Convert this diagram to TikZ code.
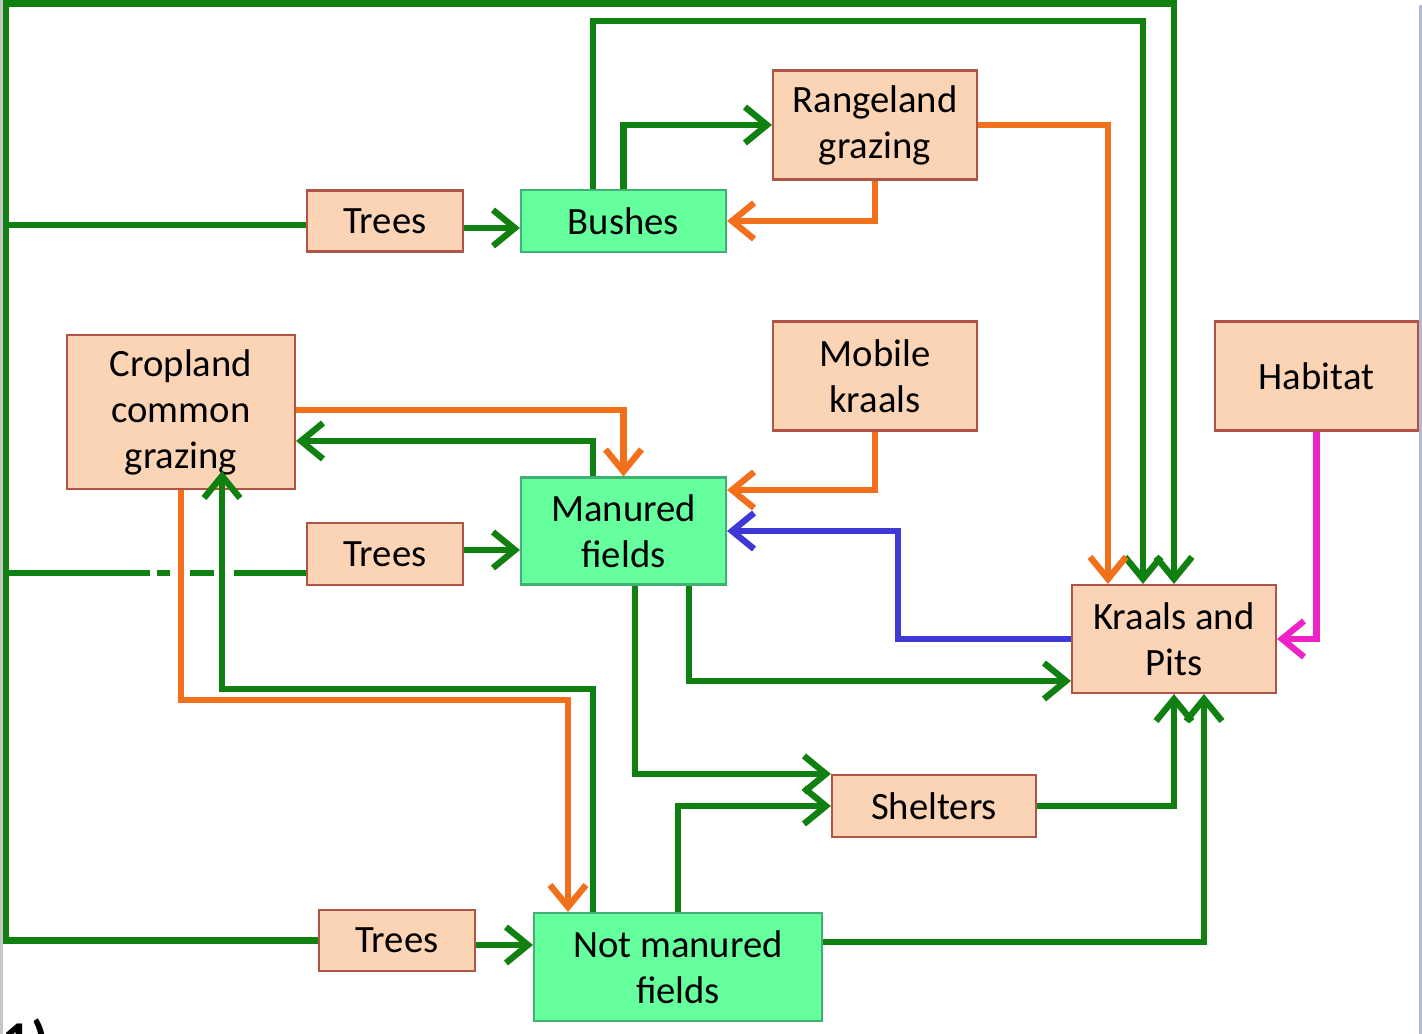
\documentclass[tikz,border=0pt]{standalone}
\usepackage{fontspec}
\setmainfont{Carlito}
\usepackage{tikz}
\usetikzlibrary{arrows.meta}
\definecolor{peach}{RGB}{251,212,182}
\definecolor{peachline}{RGB}{176,84,72}
\definecolor{mint}{RGB}{102,255,158}
\definecolor{mintline}{RGB}{66,176,116}
\definecolor{leaf}{RGB}{16,128,16}
\definecolor{carrot}{RGB}{242,112,28}
\definecolor{indigo}{RGB}{62,56,214}
\definecolor{pinkline}{RGB}{238,34,198}
\definecolor{edgegrey}{RGB}{176,188,214}

\begin{document}
\begin{tikzpicture}[x=1cm, y=1cm,
	box/.style={draw=peachline, fill=peach, line width=0.6pt, inner sep=0pt, align=center,
		font=\fontsize{11}{13.1}\selectfont},
	fieldbox/.style={box, draw=mintline, fill=mint},
	wire/.style={line width=1.8pt},
	flow/.style={wire, -{Straight Barb[length=2.2mm,width=3.6mm]}}]
				\useasboundingbox (0,0) rectangle (14.22,10.34);
				\draw[gray!45, line width=0.03cm] (0.015,0)-- (0.015,10.34);
				\draw[edgegrey, line width=0.03cm] (14.205,0)-- (14.205,10.29);
				% boxes
				\node[box, minimum width=1.56cm, minimum height=0.61cm] (trees1) at (3.85,8.13) {Trees};
				\node[fieldbox, minimum width=2.05cm, minimum height=0.62cm] (bushes) at (6.235,8.13) {Bushes};
				\node[box, minimum width=2.04cm, minimum height=1.09cm] (rangeland) at (8.75,9.09) {Rangeland\\grazing};
				\node[box, minimum width=2.28cm, minimum height=1.54cm] (cropland) at (1.81,6.22) {Cropland\\common\\grazing};
				\node[box, minimum width=2.04cm, minimum height=1.09cm] (mobile) at (8.75,6.58) {Mobile\\kraals};
				\node[box, minimum width=2.03cm, minimum height=1.09cm] (habitat) at (13.165,6.58) {Habitat};
				\node[fieldbox, minimum width=2.05cm, minimum height=1.07cm] (manured) at (6.235,5.03) {Manured\\fields};
				\node[box, minimum width=1.56cm, minimum height=0.62cm] (trees2) at (3.85,4.80) {Trees};
				\node[box, minimum width=2.04cm, minimum height=1.08cm] (kraals) at (11.74,3.95) {Kraals and\\Pits};
				\node[box, minimum width=2.04cm, minimum height=0.62cm] (shelters) at (9.34,2.28) {Shelters};
				\node[box, minimum width=1.56cm, minimum height=0.61cm] (trees3) at (3.97,0.935) {Trees};
				\node[fieldbox, minimum width=2.88cm, minimum height=1.08cm] (notman) at (6.78,0.67) {Not manured\\fields};
				\node[anchor=north west, inner sep=0pt, font=\fontsize{16}{16}\bfseries] (tag) at (0.02,0.16) {1)};
				% end points
				\coordinate (tl) at (0.06,10.305);
				\coordinate (topin) at (0,10.13);
				\coordinate (bend) at (8.98,0);
				\coordinate (orangelow) at (0,3.34);
				\coordinate (greenlow) at (0,3.45);
				\coordinate (t1w) at ([yshift=-0.04cm]trees1.west);
				\coordinate (t1e) at ([yshift=-0.07cm]trees1.east);
				\coordinate (t2w) at ([yshift=-0.19cm]trees2.west);
				\coordinate (t2e) at ([yshift=0.04cm]trees2.east);
				\coordinate (t3e) at ([yshift=-0.045cm]trees3.east);
				\coordinate (b1) at ([xshift=-0.305cm]bushes.north);
				\coordinate (k1) at ([xshift=-0.66cm]kraals.north);
				\coordinate (k2) at ([xshift=-0.31cm]kraals.north);
				\coordinate (k3) at ([yshift=-0.42cm]kraals.west);
				\coordinate (k4) at ([xshift=0.30cm]kraals.south);
				\coordinate (c1) at ([yshift=-0.29cm]cropland.east);
				\coordinate (c2) at ([xshift=0.41cm,yshift=0.19cm]cropland.south);
				\coordinate (c3) at ([yshift=0.02cm]cropland.east);
				\coordinate (m1) at ([xshift=-0.305cm]manured.north);
				\coordinate (m2) at ([yshift=0.41cm]manured.east);
				\coordinate (m3) at ([xshift=0.655cm]manured.south);
				\coordinate (m4) at ([xshift=0.115cm]manured.south);
				\coordinate (n1) at ([xshift=-1.10cm]notman.north);
				\coordinate (n2) at ([xshift=-0.85cm]notman.north);
				\coordinate (n3) at ([yshift=0.25cm]notman.east);
				% green
				\draw[wire, leaf] (t1w) -| (tl);
				\draw[flow, leaf] (trees3.west) -| (tl) -| (kraals.north);
				\draw[wire, leaf, dash pattern=on 1.44cm off 0.07cm on 0.13cm off 0.20cm on 0.24cm off 0.20cm on 0.73cm off 1cm] (t2w -| tl)-- (t2w);
				\draw[flow, leaf] (t1e)-- (t1e -| bushes.west);
				\draw[flow, leaf] (t2e)-- (t2e -| manured.west);
				\draw[flow, leaf] (t3e)-- (t3e -| notman.west);
				\draw[flow, leaf] (bushes.north) |- (rangeland.west);
				\draw[flow, leaf] (b1)-- (b1 |- topin) -| (k2);
				\draw[flow, leaf] (m1) |- (c1);
				\draw[flow, leaf] (m3) |- (k3);
				\draw[flow, leaf] (m4) |- (shelters.north west);
				\draw[flow, leaf] (n2)-- (n2 |- greenlow) -| (c2);
				\draw[flow, leaf] (notman.north) |- (shelters.west);
				\draw[flow, leaf] (shelters.east) -| (kraals.south);
				\draw[flow, leaf] (n3) -| (k4);
				% orange
				\draw[flow, carrot] (rangeland.south) |- (bushes.east);
				\draw[flow, carrot] (rangeland.east) -| (k1);
				\draw[flow, carrot] (c3) -| (manured.north);
				\draw[flow, carrot] (mobile.south) |- (m2);
				\draw[flow, carrot] (cropland.south)-- (cropland.south |- orangelow) -| (n1);
				% blue and pink
				\draw[flow, indigo] (kraals.west)-- (kraals.west -| bend) |- (manured.east);
				\draw[flow, pinkline] (habitat.south) |- (kraals.east);
\end{tikzpicture}
\end{document}
